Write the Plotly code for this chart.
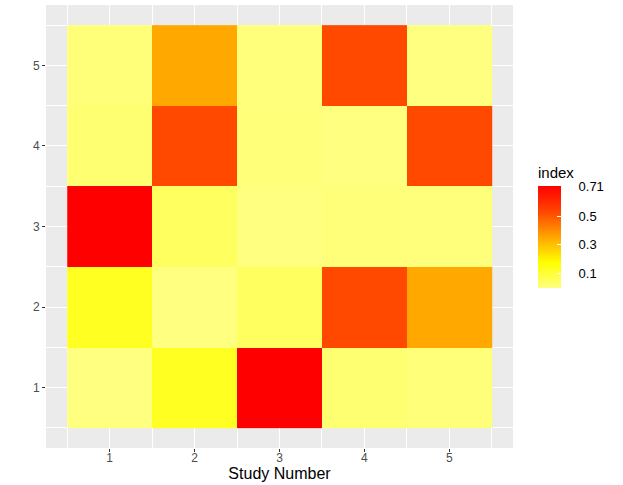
import plotly.graph_objects as go

# study numbers on both axes
studies = [1, 2, 3, 4, 5]

# index values, one row per y study (1 at the bottom)
row_1 = [0.00, 0.13, 0.71, 0.02, 0.01]
row_2 = [0.13, 0.00, 0.045, 0.525, 0.35]
row_3 = [0.71, 0.045, 0.00, 0.01, 0.005]
row_4 = [0.02, 0.525, 0.01, 0.00, 0.525]
row_5 = [0.01, 0.35, 0.005, 0.525, 0.00]

legend_ticks = [0.1, 0.3, 0.5, 0.71]
legend_labels = ["0.1", "0.3", "0.5", "0.71"]

scale = [
    [0.0, "#FFFF80"],
    [0.25, "#FFFF00"],
    [0.5, "#FFA500"],
    [0.75, "#FF4500"],
    [1.0, "#FF0000"],
]

W, H = 623, 485
L, R, T, B = 46, 110, 5, 37
plot_w = W - L - R
plot_h = H - T - B

heat = go.Heatmap(
    x=studies,
    y=studies,
    z=[row_1, row_2, row_3, row_4, row_5],
    zmin=0,
    zmax=0.71,
    colorscale=scale,
    colorbar=dict(
        title=dict(text="index", side="top", font=dict(size=15, color="#000000")),
        thickness=23,
        thicknessmode="pixels",
        len=124,
        lenmode="pixels",
        x=(538 - L) / plot_w,
        xanchor="left",
        xpad=0,
        y=(448 - 226) / plot_h,
        yanchor="middle",
        ypad=0,
        outlinewidth=0,
        tickvals=legend_ticks,
        ticktext=["    " + s for s in legend_labels],
        ticks="inside",
        ticklen=4,
        tickcolor="white",
        tickfont=dict(size=13, color="#000000"),
    ),
)

fig = go.Figure(heat)

axis_style = dict(
    range=[0.25, 5.75],
    tickvals=studies,
    ticks="outside",
    ticklen=3,
    tickwidth=1,
    tickcolor="#333333",
    tickfont=dict(size=12, color="#4D4D4D"),
    showgrid=True,
    gridcolor="white",
    gridwidth=1.1,
    zeroline=False,
    showline=False,
    minor=dict(tickvals=[0.5, 1.5, 2.5, 3.5, 4.5, 5.5], showgrid=True,
               gridcolor="white", gridwidth=0.5),
)

fig.update_xaxes(**axis_style, ticklabelstandoff=-4,
                 title=dict(text="Study Number", font=dict(size=16, color="#000000"), standoff=0))
fig.update_yaxes(**axis_style)

fig.update_layout(
    width=W,
    height=H,
    margin=dict(l=L, r=R, t=T, b=B, autoexpand=False),
    plot_bgcolor="#EBEBEB",
    paper_bgcolor="white",
    font=dict(family="Liberation Sans, Arial, sans-serif"),
)

# drop the page's default body margin so the figure sits at the window corner
fig.write_html("out.html", config={"displayModeBar": False},
               post_script="document.body.style.margin='0px';")
